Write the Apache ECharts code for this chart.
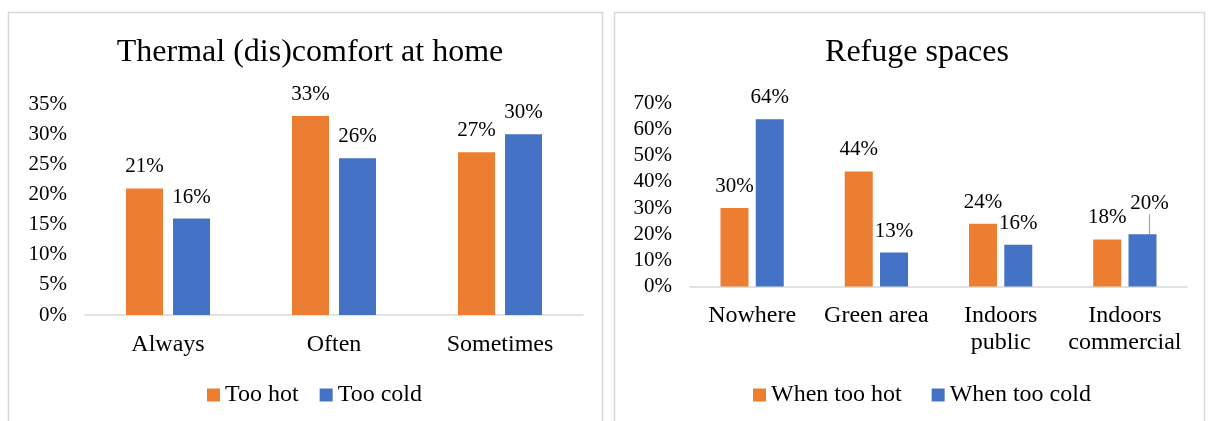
<!DOCTYPE html>
<html>
<head>
<meta charset="utf-8">
<script src="https://cdn.jsdelivr.net/npm/echarts@6/dist/echarts.min.js"></script>
<style>
html,body{margin:0;padding:0;background:#fff;}
#chart{width:1210px;height:421px;}
</style>
</head>
<body>
<div id="chart"></div>
<script>
// ---- Data ----
const leftTitle = 'Thermal (dis)comfort at home';
const leftCategories = ['Always', 'Often', 'Sometimes'];
const tooHot = [21, 33, 27];
const tooCold = [16, 26, 30];
const leftTicks = [0, 5, 10, 15, 20, 25, 30, 35];

const rightTitle = 'Refuge spaces';
const rightCategories = ['Nowhere', 'Green area', 'Indoors\npublic', 'Indoors\ncommercial'];
const whenHot = [30, 44, 24, 18];
const whenCold = [64, 13, 16, 20];
const rightTicks = [0, 10, 20, 30, 40, 50, 60, 70];

// ---- Styling ----
const FONT = 'Liberation Serif, Times New Roman, serif';
const ORANGE = '#ED7D31';
const BLUE = '#4472C4';
const AXIS_GRAY = '#d9d9d9';

function yAxisFor(ticks, gridIndex) {
  return {
    type: 'value', gridIndex: gridIndex,
    min: ticks[0], max: ticks[ticks.length - 1], interval: ticks[1] - ticks[0],
    axisLine: {show: false}, axisTick: {show: false}, splitLine: {show: false},
    axisLabel: {formatter: '{value}%', fontFamily: FONT, fontSize: 21, color: '#000', margin: 18}
  };
}
function xAxisFor(cats, gridIndex) {
  return {
    type: 'category', gridIndex: gridIndex, data: cats,
    axisLine: {lineStyle: {color: AXIS_GRAY, width: 1.5}},
    axisTick: {show: false},
    axisLabel: {fontFamily: FONT, fontSize: 24, color: '#000', margin: 16, lineHeight: 27, interval: 0}
  };
}
const labelCfg = {show: true, position: 'top', distance: 11, formatter: '{c}%', fontFamily: FONT, fontSize: 21, color: '#000'};

const coldRightData = whenCold.map(function (v, i) {
  return i === 3 ? {value: v, labelLine: {show: true, lineStyle: {color: '#a6a6a6', width: 1.25}}} : {value: v};
});

const option = {
  backgroundColor: '#fff',
  animation: false,
  graphic: [
    {type: 'rect', shape: {x: 8.5, y: 12.5, width: 594, height: 430}, style: {fill: 'none', stroke: AXIS_GRAY, lineWidth: 1.5}, silent: true},
    {type: 'rect', shape: {x: 614.5, y: 12.5, width: 590, height: 430}, style: {fill: 'none', stroke: AXIS_GRAY, lineWidth: 1.5}, silent: true}
  ],
  title: [
    {text: leftTitle, left: 310, top: 37, textAlign: 'center', padding: 0,
     textStyle: {fontFamily: FONT, fontSize: 32, fontWeight: 'normal', color: '#000'}},
    {text: rightTitle, left: 917, top: 37, textAlign: 'center', padding: 0,
     textStyle: {fontFamily: FONT, fontSize: 32, fontWeight: 'normal', color: '#000'}}
  ],
  legend: [
    {data: ['Too hot', 'Too cold'], left: 207, top: 383, padding: 0, itemWidth: 13, itemHeight: 13, itemGap: 21, icon: 'rect',
     textStyle: {fontFamily: FONT, fontSize: 24, color: '#000'}},
    {data: ['When too hot', 'When too cold'], left: 753, top: 383, padding: 0, itemWidth: 13, itemHeight: 13, itemGap: 30, icon: 'rect',
     textStyle: {fontFamily: FONT, fontSize: 24, color: '#000'}}
  ],
  grid: [
    {left: 85, top: 104, width: 498, height: 211},
    {left: 690, top: 103.5, width: 497, height: 183}
  ],
  xAxis: [xAxisFor(leftCategories, 0), xAxisFor(rightCategories, 1)],
  yAxis: [yAxisFor(leftTicks, 0), yAxisFor(rightTicks, 1)],
  series: [
    {name: 'Too hot', type: 'bar', xAxisIndex: 0, yAxisIndex: 0, data: tooHot, barWidth: 37, barGap: '27%',
     itemStyle: {color: ORANGE}, label: labelCfg},
    {name: 'Too cold', type: 'bar', xAxisIndex: 0, yAxisIndex: 0, data: tooCold, barWidth: 37, barGap: '27%',
     itemStyle: {color: BLUE}, label: labelCfg},
    {name: 'When too hot', type: 'bar', xAxisIndex: 1, yAxisIndex: 1, data: whenHot, barWidth: 28, barGap: '26%',
     itemStyle: {color: ORANGE}, label: labelCfg},
    {name: 'When too cold', type: 'bar', xAxisIndex: 1, yAxisIndex: 1, data: coldRightData, barWidth: 28, barGap: '26%',
     itemStyle: {color: BLUE}, label: labelCfg,
     labelLayout: function (params) { return params.dataIndex === 3 ? {dx: 7, dy: -9} : {}; }}
  ]
};

const chart = echarts.init(document.getElementById('chart'), null, {renderer: 'canvas'});
chart.setOption(option);
</script>
</body>
</html>
